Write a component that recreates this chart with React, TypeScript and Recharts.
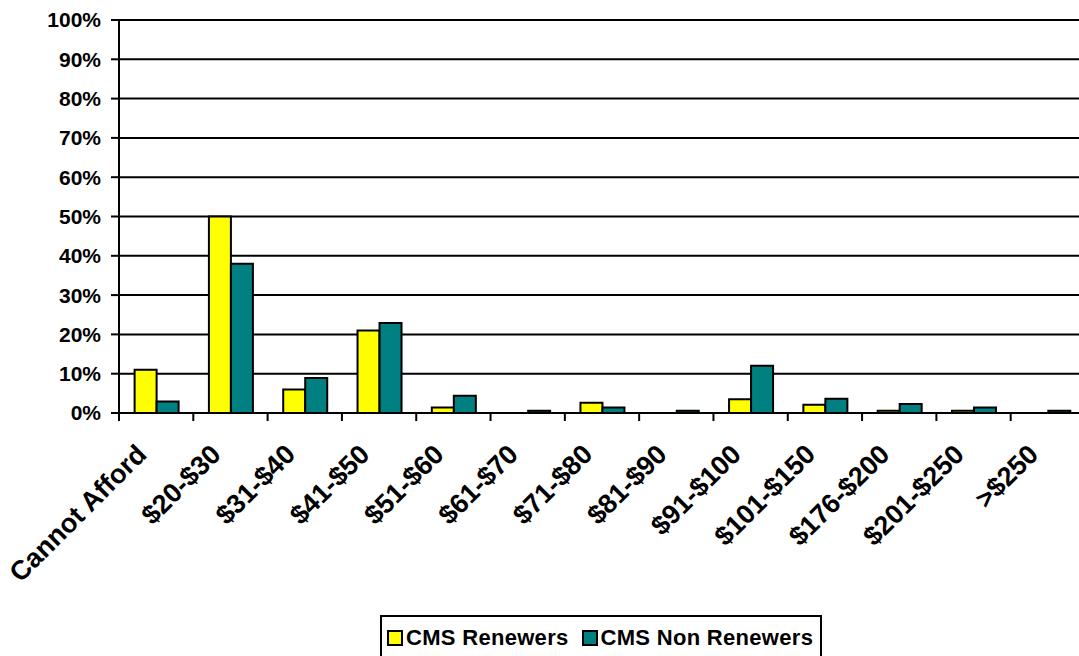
import { FC } from "react";
import {
  BarChart,
  Bar,
  XAxis,
  YAxis,
  CartesianGrid,
  Legend,
} from "recharts";

const categories = [
  "Cannot Afford",
  "$20-$30",
  "$31-$40",
  "$41-$50",
  "$51-$60",
  "$61-$70",
  "$71-$80",
  "$81-$90",
  "$91-$100",
  "$101-$150",
  "$176-$200",
  "$201-$250",
  ">$250",
];
const renewers = [11, 50, 6, 21, 1.4, 0, 2.6, 0, 3.5, 2.1, 0.6, 0.6, 0];
const nonRenewers = [2.9, 38, 8.9, 22.9, 4.4, 0.6, 1.4, 0.6, 12, 3.6, 2.3, 1.4, 0.6];
const yTicks = [0, 10, 20, 30, 40, 50, 60, 70, 80, 90, 100];

const data = categories.map((name, i) => ({
  name,
  renewers: renewers[i],
  nonRenewers: nonRenewers[i],
}));

const FONT = '"Liberation Sans", Arial, sans-serif';

// category label rotated 45°, tick mark drawn on the band boundary
const CategoryTick = (props: any) => {
  const { x, y, payload } = props;
  const edge = x - (payload.offset ?? 37);
  const tx = x - 8;
  const ty = y + 43;
  return (
    <g>
      <line x1={edge} y1={y} x2={edge} y2={y + 8} stroke="#000" strokeWidth={2} />
      <text
        x={tx}
        y={ty}
        textAnchor="end"
        transform={`rotate(-45, ${tx}, ${ty})`}
        fontFamily={FONT}
        fontWeight="bold"
        fontSize={27}
        fill="#000"
      >
        {payload.value}
      </text>
    </g>
  );
};

const LegendBox = () => (
  <div
    style={{
      border: "2px solid #000",
      height: 50,
      boxSizing: "border-box",
      display: "flex",
      alignItems: "flex-start",
      whiteSpace: "nowrap",
      paddingTop: 8,
      paddingLeft: 5,
      fontFamily: FONT,
      fontWeight: "bold",
      fontSize: 22,
      letterSpacing: 0.3,
      color: "#000",
    }}
  >
    {[
      { label: "CMS Renewers", color: "#FFFF00" },
      { label: "CMS Non Renewers", color: "#008080" },
    ].map((item) => (
      <span
        key={item.label}
        style={{ display: "flex", alignItems: "center", flexShrink: 0, marginRight: 13 }}
      >
        <span
          style={{
            display: "inline-block",
            flexShrink: 0,
            width: 12,
            height: 12,
            background: item.color,
            border: "2px solid #000",
            marginRight: 3,
          }}
        />
        {item.label}
      </span>
    ))}
  </div>
);

const App: FC = () => {
  return (
    <div style={{ position: "absolute", left: 0, top: 0, width: 1079, height: 656, overflow: "hidden", background: "#fff" }}>
      <BarChart
        width={1085}
        height={656}
        data={data}
        margin={{ top: 20, right: 0, bottom: 43, left: 0 }}
        barCategoryGap="21%"
        barGap={0}
      >
        <CartesianGrid vertical={false} stroke="#000" strokeWidth={2} />
        <XAxis
          dataKey="name"
          interval={0}
          height={200}
          tickLine={false}
          tickSize={0}
          tickMargin={0}
          axisLine={{ stroke: "#000", strokeWidth: 2 }}
          tick={<CategoryTick />}
        />
        <YAxis
          width={119}
          domain={[0, 100]}
          ticks={yTicks}
          interval={0}
          tickFormatter={(v: number) => `${v}%`}
          tickSize={8}
          tickMargin={10}
          axisLine={{ stroke: "#000", strokeWidth: 2 }}
          tickLine={{ stroke: "#000", strokeWidth: 2 }}
          tick={{ fill: "#000", fontFamily: FONT, fontWeight: "bold", fontSize: 21 }}
        />
        <Legend
          verticalAlign="middle"
          layout="horizontal"
          wrapperStyle={{ left: 380, top: 615, width: 442, height: 50 }}
          content={<LegendBox />}
        />
        <Bar
          dataKey="renewers"
          name="CMS Renewers"
          fill="#FFFF00"
          stroke="#000"
          strokeWidth={2}
          isAnimationActive={false}
        />
        <Bar
          dataKey="nonRenewers"
          name="CMS Non Renewers"
          fill="#008080"
          stroke="#000"
          strokeWidth={2}
          isAnimationActive={false}
        />
      </BarChart>
    </div>
  );
};

export default App;
